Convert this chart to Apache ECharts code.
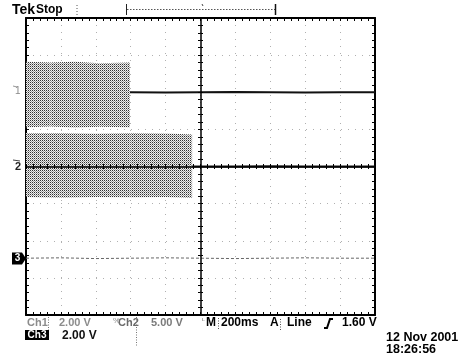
<!DOCTYPE html>
<html><head><meta charset="utf-8">
<script src="https://cdn.jsdelivr.net/npm/echarts@6/dist/echarts.min.js"></script>
<style>html,body{margin:0;padding:0;background:#fff}#c{width:467px;height:358px}</style>
</head><body><div id="c"></div>
<script>
// ---- data (in scope divisions; x: -5..5 div at 200 ms/div, y: -4..4 div) ----
const ch1BandX    = [-5, -4.3, -3.6, -2.9, -2.02];
const ch1BandLow  = [1.06, 1.08, 1.05, 1.07, 1.06];
const ch1BandHigh = [2.82, 2.80, 2.82, 2.78, 2.80];
const ch1FlatX    = [-2.02, -1, 0, 1, 2, 3, 4, 5];
const ch1FlatY    = [2.0, 1.99, 2.0, 2.01, 2.0, 1.99, 2.0, 2.0];

const ch2BandX    = [-5, -4, -3, -2, -1, -0.24];
const ch2BandLow  = [-0.82, -0.84, -0.82, -0.83, -0.82, -0.85];
const ch2BandHigh = [0.90, 0.90, 0.88, 0.90, 0.89, 0.86];
const ch2FlatX    = [-0.24, 1, 2, 3, 4, 5];
const ch2FlatY    = [0.0, 0.0, 0.01, 0.0, 0.0, 0.0];

const ch3X        = [-5, -4, -3, -2, -1, 0, 1, 2, 3, 4, 5];
const ch3Y        = [-2.47, -2.46, -2.48, -2.47, -2.46, -2.47, -2.48, -2.47, -2.46, -2.47, -2.47];

const xTicks = {min: -5, max: 5, interval: 1};
const yTicks = {min: -4, max: 4, interval: 1};

// ---- helpers ----
function pairs(xs, ys) { return xs.map((x, i) => [x, ys[i]]); }
// band segments: [x0, lo0, hi0, x1, lo1, hi1]
function segments(xs, lo, hi) {
  const out = [];
  for (let i = 0; i < xs.length - 1; i++) out.push([xs[i], lo[i], hi[i], xs[i + 1], lo[i + 1], hi[i + 1]]);
  return out;
}

function ditherPattern() {
  const c = document.createElement('canvas');
  c.width = 2; c.height = 2;
  const g = c.getContext('2d');
  g.fillStyle = '#eeeeee'; g.fillRect(0, 0, 2, 2);
  g.fillStyle = '#303030'; g.fillRect(0, 0, 1, 1);
  g.fillStyle = '#9a9a9a'; g.fillRect(1, 1, 1, 1);
  return {image: c, repeat: 'repeat'};
}
const pat = ditherPattern();

function bandRender(params, api) {
  const a = api.coord([api.value(0), api.value(2)]);
  const b = api.coord([api.value(3), api.value(5)]);
  const c = api.coord([api.value(3), api.value(4)]);
  const d = api.coord([api.value(0), api.value(1)]);
  return {type: 'polygon', shape: {points: [a, b, c, d]}, style: {fill: pat, stroke: null}};
}

const chart = echarts.init(document.getElementById('c'), null, {renderer: 'canvas'});
const gridRect = {left: 26, top: 18, width: 349, height: 297, outerBoundsMode: 'none', containLabel: false};

function borderAxis(extra, ticks, split) {
  return Object.assign({
    type: 'value', min: ticks.min, max: ticks.max, interval: ticks.interval,
    axisLine: {show: true, onZero: false, lineStyle: {color: '#000', width: 2}},
    axisTick: {show: true, inside: true, length: 3, lineStyle: {color: '#000', width: 1}},
    minorTick: {show: true, splitNumber: 5, length: 3, lineStyle: {color: '#000', width: 1}},
    axisLabel: {show: false},
    splitLine: {show: split, lineStyle: {color: '#b0b0b0', width: 1, type: [1, 6]}},
    minorSplitLine: {show: false}
  }, extra);
}
function centerAxis(extra, ticks, showLine) {
  return Object.assign({
    type: 'value', min: ticks.min, max: ticks.max, interval: ticks.interval, z: 5,
    axisLine: {show: showLine, onZero: true, lineStyle: {color: '#000', width: 1.5}},
    axisTick: {show: true, inside: false, length: 2.5, lineStyle: {color: '#000', width: 1}},
    minorTick: {show: true, splitNumber: 5, length: 2.5, lineStyle: {color: '#000', width: 1}},
    axisLabel: {show: false},
    splitLine: {show: false}
  }, extra);
}

const F = '"Liberation Sans", Arial, sans-serif';
const option = {
  animation: false,
  backgroundColor: '#fff',
  grid: [Object.assign({}, gridRect), Object.assign({}, gridRect)],
  xAxis: [
    borderAxis({gridIndex: 0, position: 'bottom'}, xTicks, true),
    borderAxis({gridIndex: 0, position: 'top'}, xTicks, false),
    centerAxis({gridIndex: 1, position: 'bottom'}, xTicks, true),
    centerAxis({gridIndex: 1, position: 'top'}, xTicks, false)
  ],
  yAxis: [
    borderAxis({gridIndex: 0, position: 'left'}, yTicks, true),
    borderAxis({gridIndex: 0, position: 'right'}, yTicks, false),
    centerAxis({gridIndex: 1, position: 'left'}, yTicks, true),
    centerAxis({gridIndex: 1, position: 'right'}, yTicks, false)
  ],
  series: [
    {type: 'custom', name: 'ch1band', xAxisIndex: 0, yAxisIndex: 0, renderItem: bandRender,
     data: segments(ch1BandX, ch1BandLow, ch1BandHigh), silent: true, z: 2},
    {type: 'custom', name: 'ch2band', xAxisIndex: 0, yAxisIndex: 0, renderItem: bandRender,
     data: segments(ch2BandX, ch2BandLow, ch2BandHigh), silent: true, z: 2},
    {type: 'line', name: 'ch1', xAxisIndex: 0, yAxisIndex: 0, showSymbol: false,
     lineStyle: {color: '#111', width: 2}, data: pairs(ch1FlatX, ch1FlatY), silent: true},
    {type: 'line', name: 'ch2', xAxisIndex: 0, yAxisIndex: 0, showSymbol: false,
     lineStyle: {color: '#111', width: 2}, data: pairs(ch2FlatX, ch2FlatY), silent: true},
    {type: 'line', name: 'ch3', xAxisIndex: 0, yAxisIndex: 0, showSymbol: false,
     lineStyle: {color: '#666', width: 1, type: [3, 2]}, data: pairs(ch3X, ch3Y), silent: true}
  ],
  graphic: [
    // header
    {type: 'text', x: 12, y: 10, style: {text: 'Tek', font: 'bold 14px ' + F, fill: '#000', verticalAlign: 'middle'}},
    {type: 'text', x: 36, y: 10, style: {text: 'Stop', font: 'bold 12px ' + F, fill: '#000', verticalAlign: 'middle'}},
    {type: 'line', shape: {x1: 77, y1: 5, x2: 77, y2: 15}, style: {stroke: '#555', lineWidth: 1, lineDash: [1, 2]}},
    {type: 'line', shape: {x1: 126.5, y1: 4, x2: 126.5, y2: 15}, style: {stroke: '#222', lineWidth: 1}},
    {type: 'line', shape: {x1: 127, y1: 9.5, x2: 275, y2: 9.5}, style: {stroke: '#555', lineWidth: 1, lineDash: [1.5, 1.5]}},
    {type: 'line', shape: {x1: 275.5, y1: 4, x2: 275.5, y2: 15}, style: {stroke: '#111', lineWidth: 1.5}},
    {type: 'line', shape: {x1: 202, y1: 4, x2: 203, y2: 6}, style: {stroke: '#444', lineWidth: 1}},
    // channel markers
    {type: 'text', x: 15, y: 91, style: {text: '1', font: '10px ' + F, fill: '#888', verticalAlign: 'middle'}},
    {type: 'line', shape: {x1: 13, y1: 86, x2: 17, y2: 87}, style: {stroke: '#999', lineWidth: 1}},
    {type: 'text', x: 15, y: 167, style: {text: '2', font: 'bold 11px ' + F, fill: '#222', verticalAlign: 'middle'}},
    {type: 'line', shape: {x1: 13, y1: 160, x2: 20, y2: 161}, style: {stroke: '#444', lineWidth: 1}},
    {type: 'polygon', shape: {points: [[12, 252.5], [22, 252.5], [26, 258.5], [22, 264.5], [12, 264.5]]}, style: {fill: '#000'}},
    {type: 'text', x: 17.5, y: 258.5, style: {text: '3', font: 'bold 10px ' + F, fill: '#fff', align: 'center', verticalAlign: 'middle'}},
    // bottom readout row 1
    {type: 'text', x: 27, y: 323, style: {text: 'Ch1', font: 'bold 11px ' + F, fill: '#8c8c8c', verticalAlign: 'middle'}},
    {type: 'line', shape: {x1: 48.5, y1: 317, x2: 48.5, y2: 330}, style: {stroke: '#777', lineWidth: 1, lineDash: [1, 1.5]}},
    {type: 'text', x: 59, y: 323, style: {text: '2.00 V', font: 'bold 11px ' + F, fill: '#8c8c8c', verticalAlign: 'middle'}},
    {type: 'text', x: 113, y: 321, style: {text: '%', font: '8px ' + F, fill: '#888', verticalAlign: 'middle'}},
    {type: 'text', x: 118, y: 323, style: {text: 'Ch2', font: 'bold 11px ' + F, fill: '#6a6a6a', verticalAlign: 'middle'}},
    {type: 'line', shape: {x1: 136.5, y1: 317, x2: 136.5, y2: 346}, style: {stroke: '#777', lineWidth: 1, lineDash: [1, 1.5]}},
    {type: 'text', x: 151, y: 323, style: {text: '5.00 V', font: 'bold 11px ' + F, fill: '#7a7a7a', verticalAlign: 'middle'}},
    {type: 'text', x: 202, y: 322, style: {text: '\u1D38', font: '8px "DejaVu Sans", sans-serif', fill: '#666', verticalAlign: 'middle'}},
    {type: 'text', x: 206, y: 323, style: {text: 'M', font: 'bold 12px ' + F, fill: '#000', verticalAlign: 'middle'}},
    {type: 'line', shape: {x1: 218.5, y1: 318, x2: 218.5, y2: 329}, style: {stroke: '#555', lineWidth: 1, lineDash: [1, 1.5]}},
    {type: 'text', x: 221, y: 323, style: {text: '200ms', font: 'bold 12px ' + F, fill: '#000', verticalAlign: 'middle'}},
    {type: 'text', x: 270, y: 323, style: {text: 'A', font: 'bold 12px ' + F, fill: '#000', verticalAlign: 'middle'}},
    {type: 'line', shape: {x1: 280.5, y1: 319, x2: 280.5, y2: 331}, style: {stroke: '#555', lineWidth: 1, lineDash: [1, 1.5]}},
    {type: 'text', x: 287, y: 323, style: {text: 'Line', font: 'bold 12px ' + F, fill: '#000', verticalAlign: 'middle'}},
    {type: 'polyline', shape: {points: [[324, 328], [327, 328], [330, 319], [333, 319]]}, style: {stroke: '#000', lineWidth: 2, fill: null}},
    {type: 'text', x: 342, y: 323, style: {text: '1.60 V', font: 'bold 12px ' + F, fill: '#000', verticalAlign: 'middle'}},
    // row 2
    {type: 'rect', shape: {x: 25, y: 330, width: 24, height: 10}, style: {fill: '#000'}},
    {type: 'text', x: 37, y: 335.5, style: {text: 'Ch3', font: 'bold 10px ' + F, fill: '#fff', align: 'center', verticalAlign: 'middle'}},
    {type: 'text', x: 62, y: 335.5, style: {text: '2.00 V', font: 'bold 12px ' + F, fill: '#111', verticalAlign: 'middle'}},
    // date/time
    {type: 'text', x: 386, y: 337.5, style: {text: '12 Nov 2001', font: 'bold 12.5px ' + F, fill: '#000', verticalAlign: 'middle'}},
    {type: 'text', x: 386, y: 349.5, style: {text: '18:26:56', font: 'bold 12.5px ' + F, fill: '#000', verticalAlign: 'middle'}}
  ]
};
chart.setOption(option);
</script>
</body></html>
